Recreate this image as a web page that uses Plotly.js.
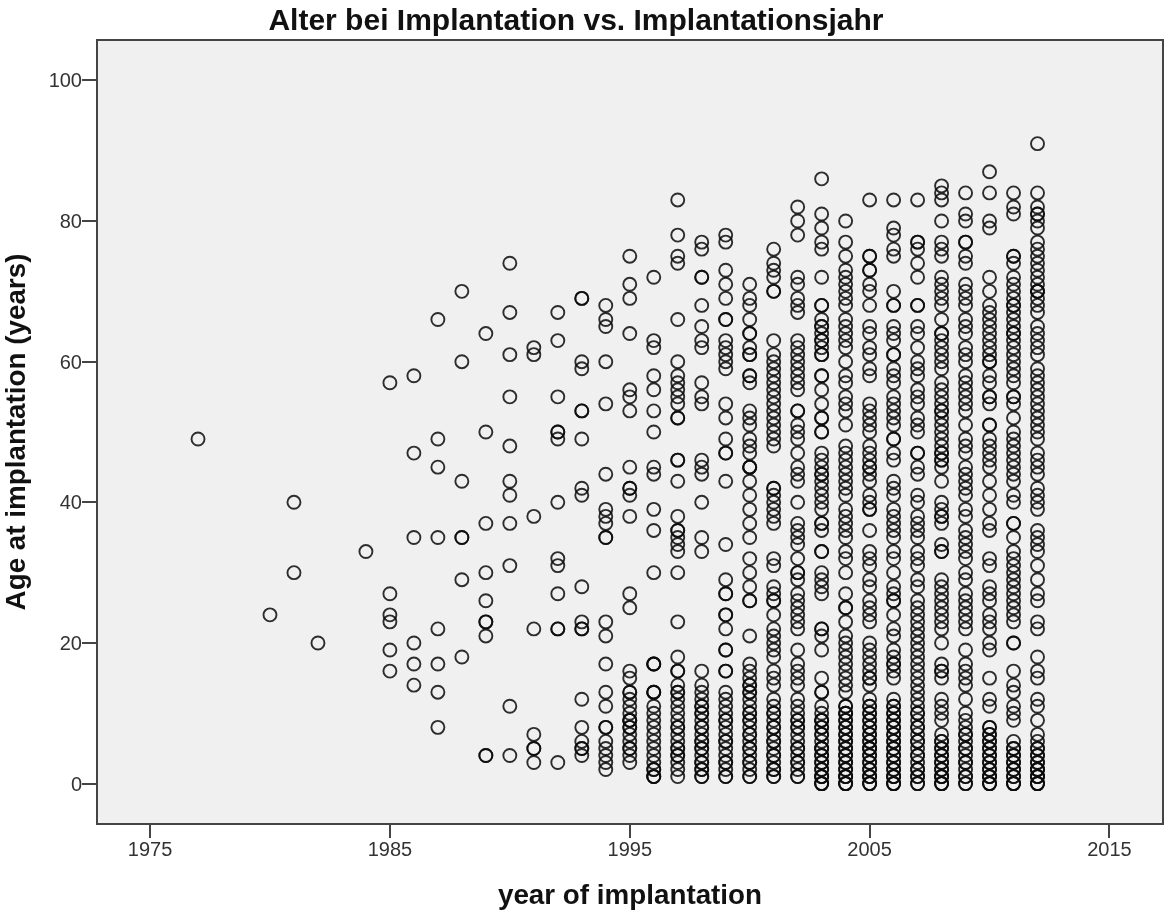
<!DOCTYPE html>
<html><head><meta charset="utf-8">
<script src="https://cdn.plot.ly/plotly-3.0.1.min.js"></script>
<style>html,body{margin:0;padding:0;background:#fff}#chart{filter:blur(0.45px)}</style></head>
<body><div id="chart" style="width:1164px;height:911px"></div>
<script>
const chartTitle = "Alter bei Implantation vs. Implantationsjahr";
const xLabel = "year of implantation";
const yLabel = "Age at implantation (years)";
const xTicks = [1975,1985,1995,2005,2015];
const yTicks = [0,20,40,60,80,100];

const y1977=[49];
const y1980=[24];
const y1981=[40,30];
const y1982=[20];
const y1984=[33];
const y1985=[57,27,24,23,19,16];
const y1986=[58,47,35,20,17,14];
const y1987=[66,49,45,35,22,17,13,8];
const y1988=[70,60,43,35,35,29,18];
const y1989=[64,50,37,30,26,23,23,21,4,4];
const y1990=[74,67,61,55,48,43,41,37,31,11,4];
const y1991=[62,61,38,22,7,5,5,3];
const y1992=[67,63,55,50,50,49,40,32,31,27,22,22,3];
const y1993=[69,69,60,59,53,53,49,42,41,28,23,22,22,12,8,6,5,5,4];
const y1994=[68,66,65,60,54,44,39,38,37,35,35,23,21,17,13,11,8,8,6,5,4,3,2];
const y1995=[75,71,69,64,56,55,53,45,42,42,41,38,27,25,16,15,13,13,12,11,10,9,9,9,8,8,7,6,5,5,4,3];
const y1996=[72,63,62,58,56,53,50,45,44,39,36,30,17,17,17,13,13,13,11,10,9,8,7,6,5,4,3,2,2,1,1,1];
const y1997=[83,78,75,74,66,60,58,57,56,55,54,52,52,46,46,43,38,36,36,35,34,33,30,23,18,16,16,14,13,13,12,11,10,9,8,8,7,6,5,5,4,4,3,2,1];
const y1998=[77,76,72,72,68,65,63,62,57,55,54,46,45,44,40,35,33,16,14,13,12,11,11,10,10,9,8,8,7,6,6,5,5,4,3,3,2,2,1,1];
const y1999=[78,77,73,71,69,66,66,63,62,61,60,59,54,52,49,47,47,43,34,29,27,27,24,24,22,19,19,16,16,13,12,11,10,9,9,8,7,6,6,5,4,3,3,2,1,1];
const y2000=[71,69,68,66,64,64,62,61,61,58,58,57,53,52,51,49,48,47,45,45,45,43,41,39,37,35,32,30,28,26,26,21,17,16,15,14,14,13,13,12,11,10,10,9,9,8,7,7,6,5,5,4,3,3,2,1,1];
const y2001=[76,74,73,72,70,70,63,61,60,59,58,57,56,55,54,53,52,51,50,49,48,42,42,41,40,39,38,37,32,31,28,27,26,26,24,22,21,20,19,18,16,15,14,12,11,10,10,9,8,8,7,6,6,5,4,4,3,2,2,1,1];
const y2002=[82,80,78,72,71,69,68,67,63,62,61,60,59,58,57,56,53,53,51,50,49,47,45,44,43,40,37,36,35,34,32,30,30,29,27,26,25,24,23,22,19,17,16,15,14,12,11,10,9,9,8,8,7,6,5,5,4,3,3,2,1,1];
const y2003=[86,81,79,77,76,72,68,68,66,65,65,64,63,63,62,61,61,58,58,56,54,52,52,50,50,47,46,45,44,44,43,42,41,40,39,37,37,36,33,33,30,29,28,27,22,22,21,19,15,13,13,11,10,9,9,9,8,8,7,7,6,5,5,5,4,4,3,3,2,2,1,1,1,0,0,0];
const y2004=[80,77,75,73,72,71,70,69,68,66,65,64,63,62,60,58,57,55,54,53,51,48,47,46,45,44,43,42,41,39,38,37,36,35,33,32,30,27,25,25,23,21,20,19,18,17,16,15,14,13,11,11,10,10,10,9,9,8,8,7,7,6,6,5,5,4,4,3,3,2,2,1,1,1,0,0,0];
const y2005=[83,75,75,73,73,71,70,68,65,64,62,61,59,58,54,53,52,51,50,48,47,46,45,45,44,43,41,40,39,39,36,33,32,31,29,28,26,25,24,23,20,19,18,17,16,15,15,14,12,11,11,10,10,9,9,8,8,7,7,6,6,5,5,5,4,4,3,3,2,2,1,1,1,0,0,0];
const y2006=[83,79,78,76,75,70,68,68,65,64,63,61,61,59,58,57,55,54,53,52,51,49,49,47,46,43,42,41,39,38,37,36,35,33,32,30,28,27,26,26,24,22,21,19,18,17,17,16,15,12,11,11,10,10,9,9,8,8,7,7,6,6,5,5,4,4,3,3,2,2,1,1,1,0,0,0];
const y2007=[83,77,77,76,74,72,68,68,65,64,62,60,59,58,56,55,54,52,51,50,47,47,45,44,41,40,38,37,36,35,33,32,31,29,28,26,25,24,23,22,21,20,19,18,17,16,15,14,13,12,11,10,10,9,8,8,7,6,6,5,4,4,3,2,2,1,1,0,0];
const y2008=[85,84,83,80,77,76,75,72,71,70,69,68,66,64,64,63,62,61,60,59,57,56,55,54,53,53,52,51,50,49,48,47,47,46,46,45,43,40,39,38,38,37,34,33,33,29,28,27,26,25,24,23,22,20,17,16,16,15,12,11,10,9,7,6,6,5,5,4,4,3,3,2,2,1,1,1,0,0,0];
const y2009=[84,81,80,77,77,75,74,71,70,69,68,66,65,64,62,61,60,58,57,56,55,54,53,51,49,48,47,45,44,43,42,41,39,38,36,35,34,33,32,30,29,27,26,25,24,23,22,19,17,16,15,14,12,10,9,8,7,7,6,5,5,4,3,3,2,1,1,0,0];
const y2010=[87,84,80,79,72,70,68,67,66,65,64,63,62,61,60,60,58,57,55,55,54,51,51,49,48,47,46,45,43,41,39,37,36,32,31,28,27,26,24,23,22,20,19,15,12,11,8,8,7,7,6,6,5,5,4,4,3,3,2,2,1,1,1,0,0,0];
const y2011=[84,82,81,75,75,74,72,71,70,69,68,68,67,66,65,64,64,63,62,61,60,59,58,57,55,55,54,52,50,49,48,47,46,45,44,43,41,40,37,37,35,33,32,31,30,29,28,27,26,25,24,23,20,20,16,14,13,11,10,9,6,5,5,4,4,3,3,2,2,1,1,0,0,0];
const y2012=[91,84,82,81,81,80,79,77,76,75,74,73,72,71,70,70,70,69,68,67,65,64,63,62,61,59,58,57,56,55,54,53,52,51,50,49,47,46,45,44,42,41,40,39,36,35,34,33,31,29,27,26,23,22,18,16,15,12,11,9,7,6,5,5,4,4,3,3,2,2,2,1,1,1,0,0,0];

const yearGroups = [[1977,y1977],[1980,y1980],[1981,y1981],[1982,y1982],[1984,y1984],[1985,y1985],[1986,y1986],[1987,y1987],[1988,y1988],[1989,y1989],[1990,y1990],[1991,y1991],[1992,y1992],[1993,y1993],[1994,y1994],[1995,y1995],[1996,y1996],[1997,y1997],[1998,y1998],[1999,y1999],[2000,y2000],[2001,y2001],[2002,y2002],[2003,y2003],[2004,y2004],[2005,y2005],[2006,y2006],[2007,y2007],[2008,y2008],[2009,y2009],[2010,y2010],[2011,y2011],[2012,y2012]];

const xs=[], ys=[];
yearGroups.forEach(([yr,ages])=>ages.forEach(a=>{xs.push(yr);ys.push(a);}));

const font="Liberation Sans, Arial, sans-serif";
const axisLine="#444444";
Plotly.newPlot("chart",[{
  type:"scatter",mode:"markers",x:xs,y:ys,
  marker:{symbol:"circle-open",size:13,color:"rgba(10,10,10,0.85)",line:{width:1.9,color:"rgba(10,10,10,0.85)"}},
  cliponaxis:false,hoverinfo:"skip"
}],{
  width:1164,height:911,
  margin:{l:98,r:1.5,t:41,b:87.5,pad:0},
  paper_bgcolor:"#ffffff",plot_bgcolor:"#f0f0f0",
  showlegend:false,
  title:{text:"<b>"+chartTitle+"</b>",font:{family:font,size:30,color:"#111"},x:576/1164,xanchor:"center",xref:"container",y:0.979,yanchor:"middle"},
  xaxis:{range:[1972.83,2017.19],tickmode:"array",tickvals:xTicks,ticktext:xTicks.map(String),ticks:"outside",ticklen:13,tickwidth:2,tickcolor:axisLine,
    showgrid:false,zeroline:false,showline:true,mirror:true,linecolor:axisLine,linewidth:2,
    tickfont:{family:font,size:20,color:"#333"},ticklabelstandoff:-6,
    title:{text:"<b>"+xLabel+"</b>",font:{family:font,size:27.8,color:"#111"},standoff:26}},
  yaxis:{range:[-5.6,105.6],tickmode:"array",tickvals:yTicks,ticktext:yTicks.map(String),ticks:"outside",ticklen:14,tickwidth:2,tickcolor:axisLine,
    showgrid:false,zeroline:false,showline:true,mirror:true,linecolor:axisLine,linewidth:2,
    tickfont:{family:font,size:20,color:"#333"},ticklabelstandoff:-4,
    title:{text:"<b>"+yLabel+"</b>",font:{family:font,size:27.8,color:"#111"},standoff:18}}
},{displayModeBar:false,staticPlot:true});
</script></body></html>
